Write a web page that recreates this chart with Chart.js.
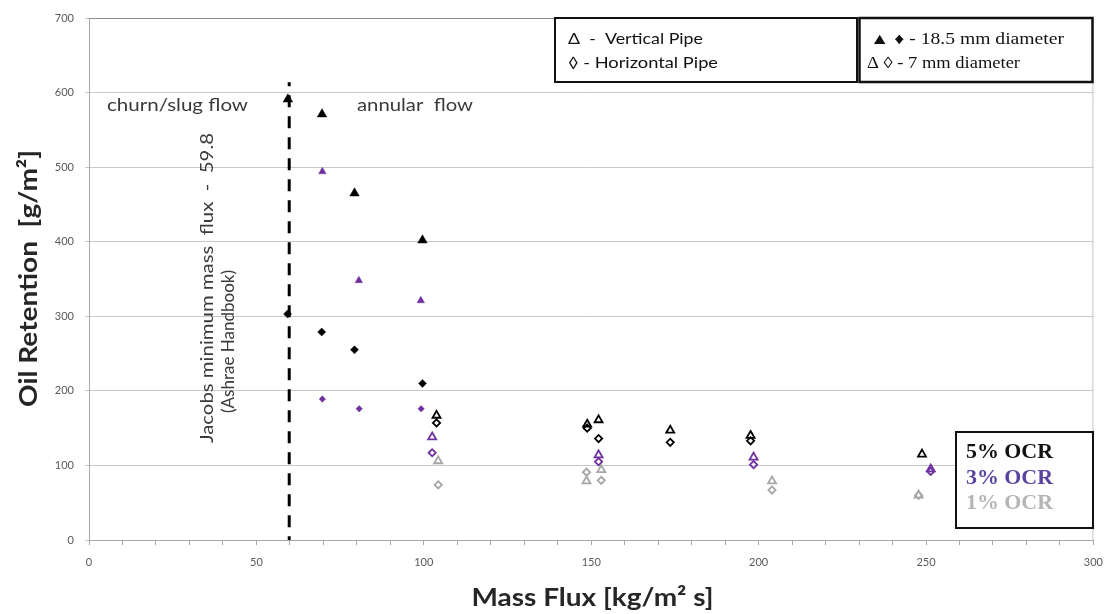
<!DOCTYPE html>
<html><head><meta charset="utf-8">
<script src="https://cdn.jsdelivr.net/npm/chart.js@4/dist/chart.umd.min.js"></script>
<style>html,body{margin:0;padding:0;background:#fff}#wrap{width:1114px;height:614px;position:relative}</style>
</head><body><div id="wrap"><canvas id="c" width="1114" height="614"></canvas></div>
<script>
// ---- tick labels ----
const xTickLabels = [0, 50, 100, 150, 200, 250, 300];
const yTickLabels = [0, 100, 200, 300, 400, 500, 600, 700];

// ---- data: 18.5 mm diameter (filled markers) ----
const flux5VLarge = [59.4, 69.6, 79.3, 99.6];
const ret5VLarge  = [591, 571, 465, 402];
const flux5HLarge = [59.3, 69.5, 79.3, 99.6];
const ret5HLarge  = [303, 279, 255, 210];
const flux3VLarge = [69.7, 80.6, 99.1];
const ret3VLarge  = [494, 348, 321];
const flux3HLarge = [69.7, 80.7, 99.2];
const ret3HLarge  = [189, 176, 176];
// ---- data: 7 mm diameter (open markers) ----
const flux5VSmall = [103.8, 148.8, 152.2, 173.6, 197.6, 248.8];
const ret5VSmall  = [167, 155, 161, 147, 140, 115];
const flux5HSmall = [103.8, 148.8, 152.2, 173.6, 197.6];
const ret5HSmall  = [157, 150, 136, 131, 133];
const flux3VSmall = [102.5, 152.2, 198.5, 251.4];
const ret3VSmall  = [138, 114, 111, 95];
const flux3HSmall = [102.5, 152.2, 198.5, 251.4];
const ret3HSmall  = [117, 105, 101, 92];
const flux1VSmall = [104.3, 148.6, 153.0, 204.0, 247.8];
const ret1VSmall  = [106, 79, 94, 79, 60];
const flux1HSmall = [104.3, 148.6, 153.0, 204.0, 247.8];
const ret1HSmall  = [74, 91, 80, 67, 60];
// ---- Jacobs minimum mass flux line ----
const jacobsFlux = [59.8, 59.8];
const jacobsRet  = [614, 0];

const BLACK = '#000000', PURPLE = '#7030a0', GRAY = '#a6a6a6';

function pts(xs, ys) { return xs.map((x, i) => ({x: x, y: ys[i]})); }

function filled(label, xs, ys, color, style, r) {
  return {label, data: pts(xs, ys), showLine: false, pointStyle: style, pointRadius: r,
    pointBackgroundColor: color, pointBorderColor: color, pointBorderWidth: 0.5};
}
function open(label, xs, ys, color, style, r) {
  return {label, data: pts(xs, ys), showLine: false, pointStyle: style, pointRadius: r,
    pointBackgroundColor: 'rgba(0,0,0,0)', pointBorderColor: color, pointBorderWidth: 1.8};
}

function drawFitted(ctx, text, x, y, w, font, color, rot) {
  ctx.save();
  ctx.font = font;
  ctx.fillStyle = color;
  ctx.textBaseline = 'alphabetic';
  ctx.textAlign = 'left';
  const m = ctx.measureText(text).width;
  ctx.translate(x, y);
  if (rot) ctx.rotate(rot);
  ctx.scale(w / m, 1);
  ctx.fillText(text, 0, 0);
  ctx.restore();
}

const overlay = {
  id: 'overlay',
  beforeDatasetsDraw(chart) {
    const {ctx, chartArea: a} = chart;
    ctx.save();
    ctx.lineWidth = 1;
    ctx.strokeStyle = '#8c8c8c';
    ctx.beginPath(); ctx.moveTo(a.left, a.top + 0.5); ctx.lineTo(a.right, a.top + 0.5); ctx.stroke();
    ctx.strokeStyle = '#c4c4c4';
    ctx.beginPath(); ctx.moveTo(a.right - 0.5, a.top); ctx.lineTo(a.right - 0.5, a.bottom); ctx.stroke();
    ctx.restore();
  },
  afterDraw(chart) {
    const ctx = chart.ctx;
    const sans = 'Lato, "Open Sans", sans-serif';
    const serif = '"Liberation Serif", "DejaVu Serif", serif';
    // axis titles
    drawFitted(ctx, 'Oil Retention  [g/m²]', 37, 407, 257, 'bold 25px ' + sans, '#262626', -Math.PI / 2);
    drawFitted(ctx, 'Mass Flux [kg/m² s]', 471.5, 606, 242, 'bold 25px ' + sans, '#262626');
    // flow regime annotations
    drawFitted(ctx, 'churn/slug flow', 107, 111, 141, '17px ' + sans, '#3a3a3a');
    drawFitted(ctx, 'annular  flow', 357, 111, 116, '17px ' + sans, '#3a3a3a');
    drawFitted(ctx, 'Jacobs minimum mass  flux  -  59.8', 213, 443, 310, '17px ' + sans, '#3a3a3a', -Math.PI / 2);
    drawFitted(ctx, '(Ashrae Handbook)', 234, 413, 143, '17px ' + sans, '#3a3a3a', -Math.PI / 2);
    // legend boxes
    ctx.save();
    ctx.fillStyle = '#fff';
    ctx.strokeStyle = '#111';
    ctx.lineWidth = 2;
    ctx.fillRect(555, 18, 302, 64); ctx.strokeRect(555, 18, 302, 64);
    ctx.lineWidth = 2.5;
    ctx.fillRect(859.5, 18, 233, 64); ctx.strokeRect(859.5, 18, 233, 64);
    ctx.lineWidth = 2;
    ctx.fillRect(956, 432, 137, 96); ctx.strokeRect(956, 432, 137, 96);
    ctx.restore();
    drawFitted(ctx, 'Δ  -  Vertical Pipe', 568, 44, 135, '15px ' + sans, '#111');
    drawFitted(ctx, '◊ - Horizontal Pipe', 568, 68, 150, '15px ' + sans, '#111');
    drawFitted(ctx, '▲ ♦ - 18.5 mm diameter', 870, 44, 194, '16px ' + serif, '#111');
    drawFitted(ctx, 'Δ ◊ - 7 mm diameter', 867, 68, 153, '16px ' + serif, '#111');
    drawFitted(ctx, '5% OCR', 966, 458, 87, 'bold 20px ' + serif, '#111');
    drawFitted(ctx, '3% OCR', 966, 484, 87, 'bold 20px ' + serif, '#5b43a0');
    drawFitted(ctx, '1% OCR', 966, 509, 87, 'bold 20px ' + serif, '#b5b5b5');
  }
};

const datasets = [
  filled('5% vertical 18.5 mm', flux5VLarge, ret5VLarge, BLACK, 'triangle', 5.5),
  filled('5% horizontal 18.5 mm', flux5HLarge, ret5HLarge, BLACK, 'rectRot', 4),
  filled('3% vertical 18.5 mm', flux3VLarge, ret3VLarge, PURPLE, 'triangle', 4.3),
  filled('3% horizontal 18.5 mm', flux3HLarge, ret3HLarge, PURPLE, 'rectRot', 3.2),
  open('5% vertical 7 mm', flux5VSmall, ret5VSmall, BLACK, 'triangle', 4.6),
  open('5% horizontal 7 mm', flux5HSmall, ret5HSmall, BLACK, 'rectRot', 3.6),
  open('3% vertical 7 mm', flux3VSmall, ret3VSmall, PURPLE, 'triangle', 4.6),
  open('3% horizontal 7 mm', flux3HSmall, ret3HSmall, PURPLE, 'rectRot', 3.6),
  open('1% vertical 7 mm', flux1VSmall, ret1VSmall, GRAY, 'triangle', 4.6),
  open('1% horizontal 7 mm', flux1HSmall, ret1HSmall, GRAY, 'rectRot', 3.6),
  {label: 'Jacobs minimum mass flux', data: pts(jacobsFlux, jacobsRet), showLine: true,
   borderColor: '#000', borderWidth: 3, borderDash: [12, 9], borderDashOffset: 8, pointRadius: 0, fill: false}
];

new Chart(document.getElementById('c'), {
  type: 'scatter',
  data: {datasets},
  options: {
    responsive: false, animation: false, devicePixelRatio: 1,
    layout: {padding: {left: 0, right: 19, top: 18, bottom: 0}},
    plugins: {legend: {display: false}, tooltip: {enabled: false}, title: {display: false}},
    scales: {
      x: {
        type: 'linear', min: 0, max: 300,
        afterFit(s) { s.height = 74; },
        border: {color: '#a6a6a6', width: 1},
        grid: {drawOnChartArea: false, drawTicks: true, tickLength: 5, color: '#a6a6a6'},
        ticks: {stepSize: 10, autoSkip: false, maxRotation: 0, padding: 11,
          color: '#595959', font: {family: 'Lato, "Open Sans", sans-serif', size: 11},
          callback: v => xTickLabels.includes(v) ? String(v) : ''}
      },
      y: {
        type: 'linear', min: 0, max: 700,
        afterFit(s) { s.width = 89; },
        border: {color: '#a6a6a6', width: 1},
        grid: {color: '#c8c8c8', tickLength: 4, drawTicks: true},
        ticks: {stepSize: 100, padding: 11, autoSkip: false,
          color: '#595959', font: {family: 'Lato, "Open Sans", sans-serif', size: 11},
          callback: v => yTickLabels.includes(v) ? String(v) : ''}
      }
    }
  },
  plugins: [overlay]
});
</script>
</body></html>
